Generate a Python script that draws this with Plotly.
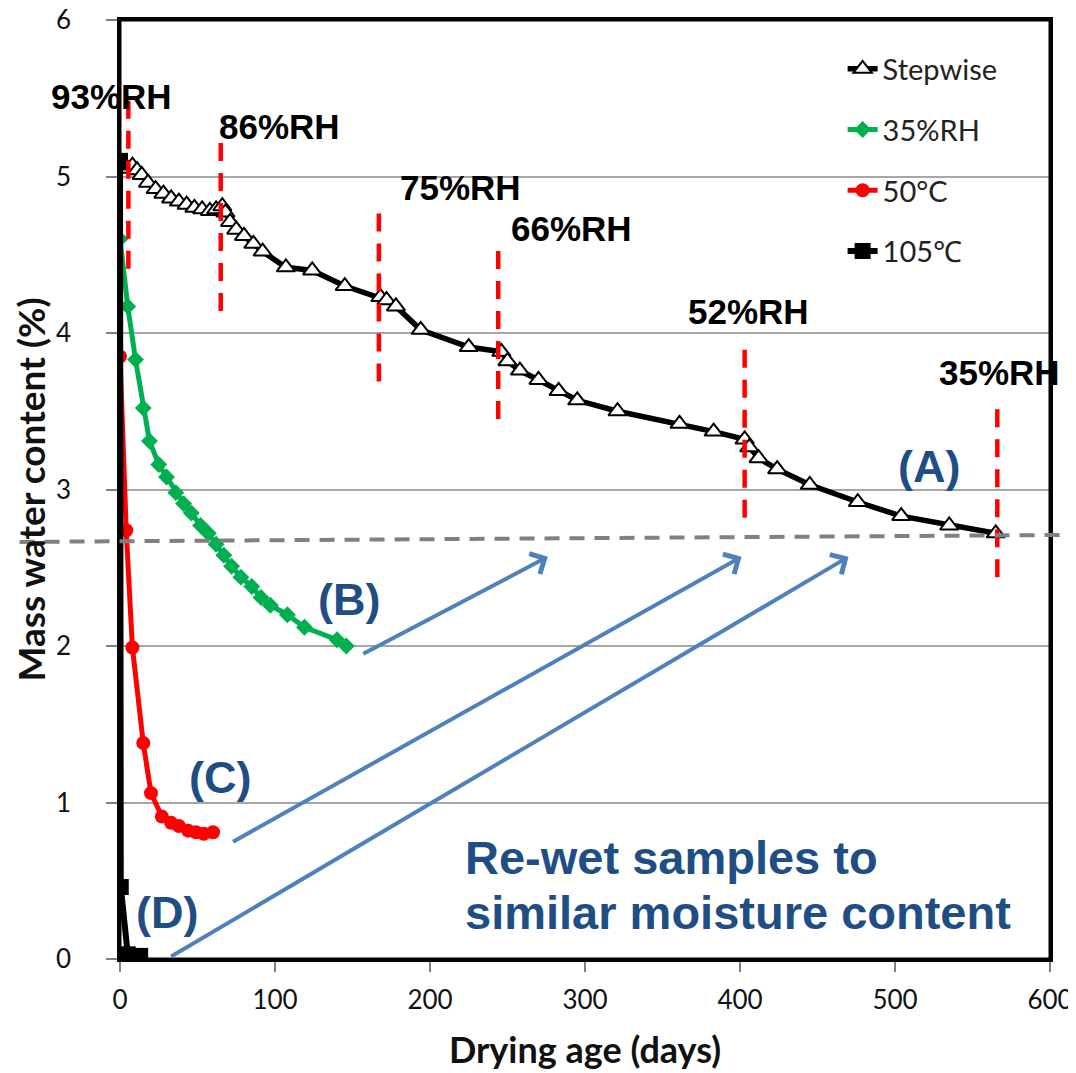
import plotly.graph_objects as go

# ---------------- data ----------------
step_x = [5, 8, 11, 14, 18, 23, 28, 33, 38, 43, 48, 53, 58, 62, 66, 68, 71, 75, 80, 86, 92,
          107, 124, 145, 168, 172, 178, 194, 225, 246, 250, 258, 270, 283, 295, 321, 361,
          383, 403, 406, 412, 424, 445, 476, 504, 535, 565]
step_y = [5.05, 5.07, 5.04, 5.01, 4.96, 4.92, 4.89, 4.86, 4.84, 4.82, 4.80, 4.79, 4.78, 4.79,
          4.81, 4.77, 4.71, 4.66, 4.62, 4.57, 4.52, 4.42, 4.40, 4.30, 4.23, 4.21, 4.17, 4.02,
          3.91, 3.88, 3.82, 3.76, 3.70, 3.63, 3.57, 3.50, 3.42, 3.37, 3.32, 3.27, 3.20, 3.13,
          3.03, 2.92, 2.83, 2.77, 2.72]

rh35_x = [0, 5, 10, 15, 19, 25, 30, 36, 41, 46, 52, 57, 62, 67, 72, 78, 85, 91, 97, 108, 119, 140, 146]
rh35_y = [4.60, 4.17, 3.83, 3.52, 3.31, 3.16, 3.08, 2.98, 2.91, 2.85, 2.77, 2.72, 2.65, 2.58,
          2.51, 2.44, 2.38, 2.31, 2.26, 2.20, 2.12, 2.04, 2.00]

c50_x = [0, 4, 8, 15, 20, 27, 33, 38, 44, 49, 54, 60]
c50_y = [3.85, 2.74, 1.99, 1.38, 1.06, 0.91, 0.87, 0.85, 0.82, 0.81, 0.80, 0.81]

c105_x = [0, 0.5, 5, 13]
c105_y = [5.10, 0.46, 0.03, 0.02]

# RH step changes
rh_labels = ["93%RH", "86%RH", "75%RH", "66%RH", "52%RH", "35%RH"]
rh_days = [5.4, 65, 167, 244, 403, 566]
rh_y0 = [4.41, 4.14, 3.69, 3.45, 2.82, 2.44]
rh_y1 = [5.49, 5.22, 4.79, 4.55, 3.91, 3.53]
rh_lab_xpaper = [-0.009, 0.172, 0.366, 0.486, 0.676, 0.946]   # label centres (fraction of x-axis)
rh_lab_y = [5.51, 5.32, 4.93, 4.67, 4.14, 3.75]

# case labels
case_labels = ["(A)", "(B)", "(C)", "(D)"]
case_x = [522, 148, 64.5, 30.6]
case_y = [3.15, 2.30, 1.16, 0.30]

# re-wet arrows: tail (x, y) -> head (x, y)
arrow_tail_x = [156, 72, 32]
arrow_tail_y = [1.945, 0.744, 0.01]
arrow_head_x = [276, 401, 470]
arrow_head_y = [2.57, 2.57, 2.57]

target_level = [2.665, 2.71]  # grey dashed target line (left, right)

x_ticks = [0, 100, 200, 300, 400, 500, 600]
y_ticks = [0, 1, 2, 3, 4, 5, 6]

BLUE_TXT = "#1F4E85"
ARROW = "#4F81BD"

fig = go.Figure()

fig.add_trace(go.Scatter(
    x=step_x, y=step_y, name="Stepwise", mode="lines+markers",
    line=dict(color="black", width=5.5),
    marker=dict(symbol="triangle-up", size=16, color="white", line=dict(color="black", width=2)),
    legendgroup="a"))
fig.add_trace(go.Scatter(
    x=rh35_x, y=rh35_y, name="35%RH", mode="lines+markers",
    line=dict(color="#00B050", width=5),
    marker=dict(symbol="diamond", size=13, color="#00B050"),
    legendgroup="b"))
fig.add_trace(go.Scatter(
    x=c50_x, y=c50_y, name="50°C", mode="lines+markers",
    line=dict(color="#FF0000", width=5),
    marker=dict(symbol="circle", size=14, color="#FF0000"),
    legendgroup="c"))
fig.add_trace(go.Scatter(
    x=c105_x, y=c105_y, name="105℃", mode="lines+markers",
    line=dict(color="black", width=6),
    marker=dict(symbol="square", size=16, color="black"),
    legendgroup="d"))

shapes = []
# plot frame
shapes.append(dict(type="rect", xref="paper", yref="paper", x0=0, x1=1, y0=0, y1=1,
                   line=dict(color="black", width=3), layer="above"))
for d, y0, y1 in zip(rh_days, rh_y0, rh_y1):
    shapes.append(dict(type="line", xref="x", yref="y", x0=d, x1=d, y0=y0, y1=y1,
                       line=dict(color="#FF0000", width=4.5, dash="18px,12px"), layer="above"))
shapes.append(dict(type="line", xref="paper", yref="y", x0=-0.108, x1=1.03,
                   y0=target_level[0], y1=target_level[1],
                   line=dict(color="#808080", width=4, dash="15px,10px"), layer="above"))

annotations = []
for t, x, y in zip(rh_labels, rh_lab_xpaper, rh_lab_y):
    annotations.append(dict(x=x, y=y, xref="paper", yref="y", xanchor="center", yanchor="middle",
                            text=t, showarrow=False,
                            font=dict(family="Liberation Sans, Arial", size=35, color="black", weight="bold")))
for t, x, y in zip(case_labels, case_x, case_y):
    annotations.append(dict(x=x, y=y, xref="x", yref="y", text=t, showarrow=False,
                            font=dict(family="Liberation Sans, Arial", size=45, color=BLUE_TXT, weight="bold")))
for tx, ty, hx, hy in zip(arrow_tail_x, arrow_tail_y, arrow_head_x, arrow_head_y):
    annotations.append(dict(x=hx, y=hy, ax=tx, ay=ty, xref="x", yref="y", axref="x", ayref="y",
                            text="", showarrow=True, arrowhead=4, arrowsize=1.1, arrowwidth=4,
                            arrowcolor=ARROW))
annotations.append(dict(x=221, y=0.65, xref="x", yref="y", xanchor="left", text="Re-wet samples to",
                        showarrow=False,
                        font=dict(family="Liberation Sans, Arial", size=47, color=BLUE_TXT, weight="bold")))
annotations.append(dict(x=221, y=0.30, xref="x", yref="y", xanchor="left", text="similar moisture content",
                        showarrow=False,
                        font=dict(family="Liberation Sans, Arial", size=47, color=BLUE_TXT, weight="bold")))

fig.update_layout(
    width=1068, height=1065,
    margin=dict(l=112, r=26, t=12, b=113.5, autoexpand=False),
    paper_bgcolor="white", plot_bgcolor="white",
    font=dict(family="Lato, Carlito, Calibri, sans-serif", color="#111111"),
    shapes=shapes, annotations=annotations,
    showlegend=True,
    legend=dict(x=0.777, y=0.975, xanchor="left", yanchor="top", bgcolor="rgba(0,0,0,0)",
                font=dict(size=29, color="#222222"), traceorder="grouped", tracegroupgap=20),
    xaxis=dict(range=[0, 600], tickvals=x_ticks, ticktext=[str(v) for v in x_ticks],
               showgrid=False, zeroline=False, showline=True, linecolor="black", linewidth=3,
               mirror=True, ticks="outside", ticklen=10, tickcolor="#808080", tickwidth=2,
               tickfont=dict(size=26), ticklabelstandoff=6, automargin=False,
               ticklabeloverflow="allow",
               title=dict(text="<b>Drying age (days)</b>", font=dict(size=36), standoff=24)),
    yaxis=dict(range=[0, 6], tickvals=y_ticks, ticktext=[str(v) for v in y_ticks],
               showgrid=True, gridcolor="#A6A6A6", gridwidth=2, zeroline=False,
               showline=True, linecolor="black", linewidth=2.5, mirror=True,
               ticks="outside", ticklen=11, tickcolor="#808080", tickwidth=2,
               tickfont=dict(size=26), ticklabelstandoff=30, automargin=False,
               ticklabeloverflow="allow",
               title=dict(text="<b>Mass water content (%)</b>", font=dict(size=37), standoff=10)),
)

fig.write_html("out.html")
